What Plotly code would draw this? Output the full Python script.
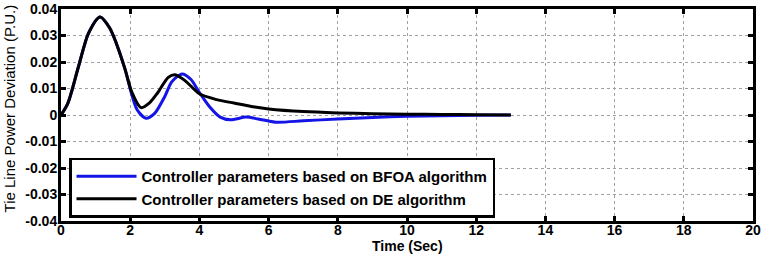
import plotly.graph_objects as go

# Time (s) and tie-line power deviation (p.u.)
t_de = [0, 0.2, 0.5, 0.8, 1.13, 1.4, 1.6, 1.85, 2.05, 2.31, 2.55, 2.8, 3.1, 3.3,
        3.6, 4.0, 4.5, 5.0, 5.5, 6.0, 7.0, 8.0, 9.0, 10.0, 11.0, 12.0, 13.0]
y_de = [0, 0.0045, 0.018, 0.031, 0.037, 0.033, 0.027, 0.0173, 0.0085, 0.0028, 0.0045,
        0.0085, 0.0142, 0.0152, 0.0128, 0.008, 0.0058, 0.0045, 0.0032, 0.0023, 0.0013,
        0.0008, 0.0005, 0.0003, 0.0002, 0.0001, 0.0]

t_bfoa = [0, 0.2, 0.5, 0.8, 1.13, 1.4, 1.6, 1.85, 2.05, 2.2, 2.45, 2.7, 3.0, 3.2, 3.5,
          3.75, 4.0, 4.3, 4.6, 4.9, 5.35, 5.7, 6.2, 7.0, 8.0, 9.0, 10.0, 11.0, 12.0, 13.0]
y_bfoa = [0, 0.0045, 0.018, 0.031, 0.037, 0.033, 0.027, 0.0173, 0.0075, 0.002, -0.0012,
          0.0005, 0.007, 0.0125, 0.0155, 0.0135, 0.0085, 0.003, -0.0008, -0.0018, -0.0008,
          -0.0015, -0.0027, -0.0022, -0.0015, -0.0009, -0.0005, -0.0003, -0.0001, 0.0]

x_ticks = list(range(0, 21, 2))
y_ticks = [-0.04, -0.03, -0.02, -0.01, 0, 0.01, 0.02, 0.03, 0.04]
y_tick_text = ["-0.04", "-0.03", "-0.02", "-0.01", "0", "0.01", "0.02", "0.03", "0.04"]

names = ["Controller parameters based on BFOA algorithm",
         "Controller parameters based on DE algorithm"]

FONT = "Liberation Sans, Arial, sans-serif"

fig = go.Figure()
fig.add_trace(go.Scatter(x=t_bfoa, y=y_bfoa, mode="lines", name=names[0],
                         line=dict(color="#1414e6", width=3, shape="spline", smoothing=0.8)))
fig.add_trace(go.Scatter(x=t_de, y=y_de, mode="lines", name=names[1],
                         line=dict(color="#000000", width=3, shape="spline", smoothing=0.8)))

axis_common = dict(showline=True, linecolor="black", linewidth=3, mirror="ticks",
                   ticks="inside", ticklen=5, tickwidth=3, tickcolor="black",
                   showgrid=True, gridcolor="#a0a0a0", griddash="dot", gridwidth=1,
                   zeroline=False, automargin=False, ticklabeloverflow="allow",
                   tickfont=dict(family=FONT, size=14, color="black", weight="bold"))

fig.update_xaxes(range=[0, 20], tickvals=x_ticks, ticklabelstandoff=-6, **axis_common)
fig.update_yaxes(range=[-0.04, 0.04], tickvals=y_ticks, ticktext=y_tick_text,
                 ticklabelstandoff=-2, **axis_common)

fig.add_annotation(text="Time (Sec)", xref="paper", yref="paper", x=0.5, y=-0.12,
                   xanchor="center", yanchor="middle", showarrow=False,
                   font=dict(family=FONT, size=14, color="black", weight="bold"))
fig.add_annotation(text="Tie Line Power Deviation (P.U.)", textangle=-90,
                   xref="paper", yref="paper", x=-0.074, y=0.53, xanchor="center",
                   yanchor="middle", showarrow=False,
                   font=dict(family=FONT, size=15, color="black"))

fig.update_layout(
    width=764, height=254,
    margin=dict(l=61, r=11, t=9, b=33),
    paper_bgcolor="white", plot_bgcolor="white",
    showlegend=True,
    legend=dict(x=0.0116, y=0.016, xanchor="left", yanchor="bottom",
                bgcolor="white", bordercolor="black", borderwidth=2.5,
                font=dict(family=FONT, size=15, color="black", weight="bold"),
                itemwidth=60, tracegroupgap=0),
)

fig.write_html("out.html")
